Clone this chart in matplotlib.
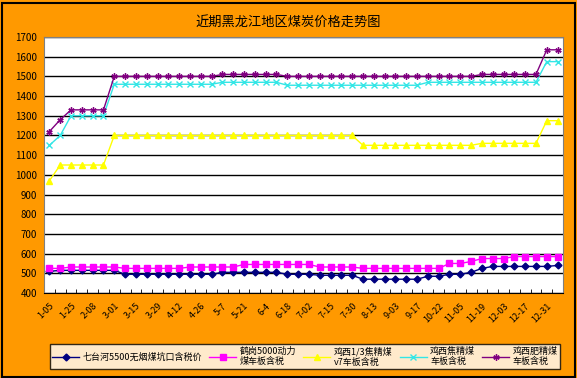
import matplotlib
matplotlib.use('Agg')
import matplotlib.pyplot as plt
from matplotlib.patches import Rectangle

plt.rcParams['font.family'] = ['Noto Sans CJK SC', 'DejaVu Sans']

# weekly-ish price samples, 48 points, every other one labelled
date_labels = ['1-05', '1-25', '2-08', '3-01', '3-15', '3-29', '4-12', '4-26',
               '5-7', '5-21', '6-4', '6-18', '7-02', '7-15', '7-30', '8-13',
               '9-03', '9-17', '10-22', '11-05', '11-19', '12-03', '12-17', '12-31']

qth_5500 = [510, 515, 515, 515, 515, 515, 515, 495, 495, 495, 495, 495,
            495, 495, 495, 495, 505, 505, 505, 505, 505, 505, 495, 495,
            495, 490, 490, 490, 490, 470, 470, 470, 470, 470, 470, 485,
            485, 495, 495, 505, 525, 535, 535, 535, 535, 535, 535, 540]
hg_5000 = [525, 525, 532, 532, 532, 532, 532, 525, 525, 525, 525, 525,
           525, 532, 532, 532, 532, 532, 545, 545, 545, 545, 545, 545,
           545, 532, 532, 532, 532, 525, 525, 525, 525, 525, 525, 525,
           525, 550, 550, 560, 575, 575, 575, 585, 585, 585, 585, 585]
jx_13 = [970, 1050, 1050, 1050, 1050, 1050, 1200, 1200, 1200, 1200, 1200, 1200,
         1200, 1200, 1200, 1200, 1200, 1200, 1200, 1200, 1200, 1200, 1200, 1200,
         1200, 1200, 1200, 1200, 1200, 1150, 1150, 1150, 1150, 1150, 1150, 1150,
         1150, 1150, 1150, 1150, 1160, 1160, 1160, 1160, 1160, 1160, 1275, 1275]
jx_jiao = [1150, 1200, 1300, 1300, 1300, 1300, 1460, 1460, 1460, 1460, 1460, 1460,
           1460, 1460, 1460, 1460, 1470, 1470, 1470, 1470, 1470, 1470, 1455, 1455,
           1455, 1455, 1455, 1455, 1455, 1455, 1455, 1455, 1455, 1455, 1455, 1470,
           1470, 1470, 1470, 1470, 1470, 1470, 1470, 1470, 1470, 1470, 1575, 1575]
jx_fei = [1220, 1280, 1330, 1330, 1330, 1330, 1500, 1500, 1500, 1500, 1500, 1500,
          1500, 1500, 1500, 1500, 1510, 1510, 1510, 1510, 1510, 1510, 1500, 1500,
          1500, 1500, 1500, 1500, 1500, 1500, 1500, 1500, 1500, 1500, 1500, 1500,
          1500, 1500, 1500, 1500, 1510, 1510, 1510, 1510, 1510, 1510, 1635, 1635]

names = ['七台河5500无烟煤坑口含税价', '鹤岗5000动力\n煤车板含税',
         '鸡西1/3焦精煤\nv7车板含税', '鸡西焦精煤\n车板含税', '鸡西肥精煤\n车板含税']

W, H = 577, 378
fig = plt.figure(figsize=(W / 100, H / 100), dpi=100)
fig.patch.set_facecolor('#FF9900')
fig.patches.append(Rectangle((1.5 / W, 1.5 / H), 1 - 4 / W, 1 - 4 / H,
                             transform=fig.transFigure, fill=False,
                             edgecolor='black', lw=1.5))

x0, x1, y0, y1 = 44, 563, 37, 293
ax = fig.add_axes([x0 / W, 1 - y1 / H, (x1 - x0) / W, (y1 - y0) / H])
ax.set_facecolor('white')

xs = list(range(len(qth_5500)))
ax.plot(xs, qth_5500, color='#000080', lw=1, marker='D', ms=3.5, label=names[0])
ax.plot(xs, hg_5000, color='#FF00FF', lw=1, marker='s', ms=4, label=names[1])
ax.plot(xs, jx_13, color='#FFFF00', lw=1, marker='^', ms=4.5, label=names[2])
ax.plot(xs, jx_jiao, color='#33E6E6', lw=1, marker='x', ms=4, mew=1, label=names[3])
ax.plot(xs, jx_fei, color='#800080', lw=1, marker=(6, 2, 0), ms=4.5, mew=1, label=names[4])

ax.set_xlim(-0.5, len(xs) - 0.5)
ax.set_ylim(400, 1700)
ax.set_yticks(range(400, 1701, 100))
ax.yaxis.grid(True, color='black', lw=1)
ax.set_axisbelow(True)
ax.tick_params(axis='y', length=0, pad=5, labelsize=7)

ax.set_xticks(range(0, len(xs), 2))
ax.set_xticklabels(date_labels, rotation=45, ha='right', va='top',
                   rotation_mode='anchor', fontsize=6.5)
ax.set_xticks([i + 0.5 for i in range(len(xs) - 1)], minor=True)
ax.tick_params(axis='x', which='major', length=0, pad=6)
ax.tick_params(axis='x', which='minor', direction='in', length=3, color='black')

for s in ['left', 'right', 'top']:
    ax.spines[s].set_color('#808080')
ax.spines['bottom'].set_color('black')

fig.text(0.5, 1 - 22 / H, '近期黑龙江地区煤炭价格走势图', ha='center', va='center',
         fontsize=9.5)

leg = fig.legend(loc='center', ncol=5, mode='expand',
                 bbox_to_anchor=(45 / W, 1 - 370 / H, 520 / W, 27 / H),
                 fontsize=6.5, frameon=True, fancybox=False, edgecolor='black',
                 handlelength=3, handletextpad=0.4, columnspacing=0.8,
                 borderpad=0.3, labelspacing=0.2)
leg.get_frame().set_linewidth(1)
for t in leg.get_texts():
    t.set_multialignment('left')

fig.savefig('out.png', dpi=100, facecolor=fig.get_facecolor())
